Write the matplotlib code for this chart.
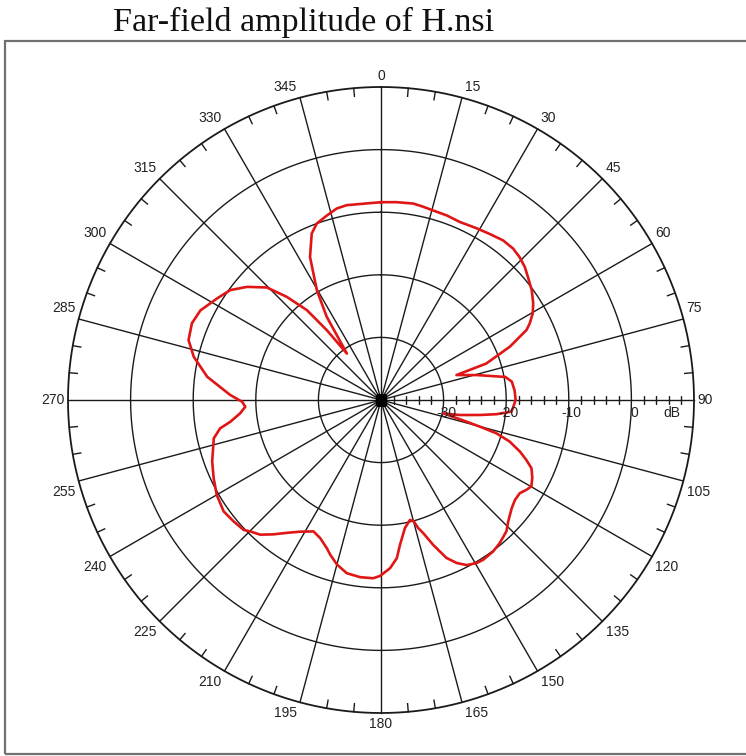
import numpy as np
import matplotlib
matplotlib.use("Agg")
import matplotlib.pyplot as plt
from matplotlib.patches import Rectangle

# far-field pattern, angle in degrees (clockwise from 0 at top), level in dB
angle_deg = [0, 4.5, 9.3, 12.3, 15.4, 19.6, 23.9, 29.1, 33.2, 37.4, 41.1,
             44.1, 47.2, 50.1, 53.9, 57.6, 60.3, 62.8, 64.3, 67.5, 70.9,
             71.7, 75.4, 79.5, 82, 86, 90, 93.6, 95.1, 97.0, 98.6, 100.8,
             102.1, 104.2, 105.1, 106.1, 107.9, 110.4, 112.4, 114.4, 117.3,
             119.9, 121.7, 123.9, 126.7, 129.6, 133.7, 136.3, 140.3, 143.5,
             147.4, 149.6, 152.6, 155.1, 157.5, 160.2, 162.4, 163.8, 164.9,
             166.4, 169.4, 172.5, 174.3, 176.9, 180.3, 182.5, 186.7, 191.2,
             195, 198.2, 200.1, 203.8, 207.2, 211.6, 215.3, 218.7, 221.9,
             224.8, 226.6, 230.5, 234.7, 240, 245, 250, 257.1, 260, 261.8,
             264.6, 267.2, 269.3, 271.9, 277.6, 283, 287.3, 292.1, 296.4,
             301.8, 306.1, 310.2, 314.6, 317.6, 320.5, 322.2, 323.7, 326.9,
             329.7, 333.6, 337.4, 340, 343.6, 347, 350, 360]
level_db = [-8.4, -8.3, -8.2, -8.4, -8.6, -8.7, -8.9, -8.6, -8.3, -7.9, -7.9,
            -8.2, -8.7, -9.4, -10.2, -11.2, -12.1, -13.3, -14.2, -17.7, -22.2,
            -27.3, -24.2, -19.8, -18.9, -18.6, -18.5, -18.9, -19.1, -21.4,
            -24.0, -27.2, -29.8, -25.9, -23.6, -20.8, -18.4, -16.3, -14.9,
            -13.6, -12.8, -12.3, -12.7, -13.3, -13.3, -12.9, -11.9, -11.0,
            -10.3, -9.9, -9.7, -9.8, -10.3, -11.3, -12.7, -15.4, -17.7, -18.7,
            -19.9, -20.3, -19.2, -16.7, -14.6, -13.1, -11.9, -11.5, -11.5,
            -11.8, -12.8, -14.0, -14.8, -15.9, -16.4, -15.3, -14.0, -12.5,
            -11.1, -10.4, -9.8, -9.5, -9.2, -9.7, -10.5, -11.3, -12.6, -13.9,
            -15.7, -17.4, -18.3, -17.8, -15.9, -12.0, -9.3, -7.8, -7.4, -7.8,
            -9.2, -10.2, -12.0, -14.4, -17.7, -21.4, -25.9, -30.8, -24.1,
            -19.7, -14.5, -11.2, -10.0, -9.3, -8.6, -8.4, -8.4]

ring_db = [-30, -20, -10, 0]
ring_labels = ["-30", "-20", "-10", "0"]
spoke_deg = list(range(0, 360, 15))
r_min, r_max = -40, 10

GRID = "#1a1a1a"

fig = plt.figure(figsize=(7.46, 7.56), dpi=100, facecolor="white")

# box around the plot area (right side runs off the page)
fig.patches.append(Rectangle((5 / 746, 2 / 756), 1.0, 713 / 756,
                             transform=fig.transFigure, fill=False,
                             edgecolor="#707070", lw=1.6))
fig.text(113 / 746, 1 - 31 / 756, "Far-field amplitude of H.nsi",
         family="Liberation Serif", fontsize=24.5, va="baseline", ha="left",
         color="#111111")

ax = fig.add_axes([68 / 746, 43 / 756, 626 / 746, 626 / 756],
                  projection="polar")
ax.set_theta_zero_location("N")
ax.set_theta_direction(-1)
ax.set_ylim(r_min, r_max)
ax.axis("off")

ring = np.linspace(0, 2 * np.pi, 721)
for r in ring_db:
    ax.plot(ring, np.full_like(ring, r), color=GRID, lw=1.0)
ax.plot(ring, np.full_like(ring, r_max), color=GRID, lw=1.3, clip_on=False)

for a in spoke_deg:
    th = np.deg2rad(a)
    ax.plot([th, th], [r_min, r_max], color=GRID, lw=1.0, clip_on=False)
    s, c = np.sin(th), np.cos(th)
    ha = "center" if abs(s) < 1e-6 else ("left" if s > 0 else "right")
    va = "center" if abs(c) < 1e-6 else ("bottom" if c > 0 else "top")
    ax.annotate(str(a), xy=(th, r_max), xytext=(2.4 * np.sign(round(s, 6)),
                2.8 * np.sign(round(c, 6))), textcoords="offset points",
                ha=ha, va=va, fontsize=10, family="Liberation Sans",
                color="#222222", annotation_clip=False)

# inward ticks every 5 degrees on the outer ring
for a in range(0, 360, 5):
    if a % 15 == 0:
        continue
    th = np.deg2rad(a)
    ax.plot([th, th], [r_max - 1.3, r_max], color=GRID, lw=1.0,
            clip_on=False)

# dB scale along the 90 degree spoke
minor_db = [v for v in range(-38, 10, 2) if v % 10 != 0]
ax.plot(np.full(len(minor_db), np.pi / 2), minor_db, ls="none", marker="|",
        ms=6, mew=1.0, color=GRID)
for r, lab in zip(ring_db, ring_labels):
    ax.annotate(lab, xy=(np.pi / 2, r), xytext=(2, -4),
                textcoords="offset points", ha="center", va="top",
                fontsize=10, family="Liberation Sans", color="#222222")
ax.annotate("dB", xy=(np.pi / 2, 6.5), xytext=(0, -4),
            textcoords="offset points", ha="center", va="top", fontsize=10,
            family="Liberation Sans", color="#222222")

ax.plot([0], [r_min], marker="s", ms=7, color="black")

ax.plot(np.deg2rad(angle_deg), level_db, color="#e01515", lw=1.9,
        solid_joinstyle="round")

fig.savefig("out.png", dpi=100, facecolor="white")
